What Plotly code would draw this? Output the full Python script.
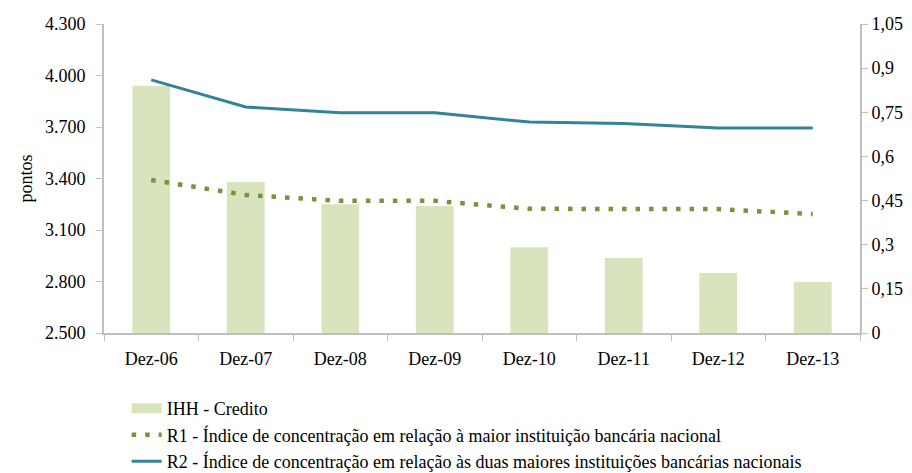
import plotly.graph_objects as go

categories = ["Dez-06", "Dez-07", "Dez-08", "Dez-09", "Dez-10", "Dez-11", "Dez-12", "Dez-13"]
ihh_credito = [3940, 3380, 3250, 3240, 3000, 2937, 2850, 2797]
r1 = [0.520, 0.469, 0.449, 0.449, 0.422, 0.421, 0.421, 0.404]
r2 = [0.860, 0.768, 0.748, 0.748, 0.717, 0.712, 0.697, 0.697]

left_ticks = [2500, 2800, 3100, 3400, 3700, 4000, 4300]
left_labels = ["2.500", "2.800", "3.100", "3.400", "3.700", "4.000", "4.300"]
right_ticks = [0, 0.15, 0.3, 0.45, 0.6, 0.75, 0.9, 1.05]
right_labels = ["0", "0,15", "0,3", "0,45", "0,6", "0,75", "0,9", "1,05"]

name_bar = "IHH - Credito"
name_r1 = "R1 - Índice de concentração em relação à maior instituição bancária nacional"
name_r2 = "R2 - Índice de concentração em relação às duas maiores instituições bancárias nacionais"

FONT = "Times New Roman"
BAR_C = "#d7e4bd"
R1_C = "#77933c"
R2_C = "#31849b"
AX_C = "#bfbfbf"
TXT = dict(family=FONT, size=18, color="#000000")

fig = go.Figure()
fig.add_trace(go.Bar(x=categories, y=ihh_credito, marker_color=BAR_C, name=name_bar,
                     showlegend=False, yaxis="y"))
# legend proxy for the bar series (wide swatch, as in the original)
fig.add_trace(go.Scatter(x=[None], y=[None], mode="lines", name=name_bar,
                         line=dict(color=BAR_C, width=10), yaxis="y"))
fig.add_trace(go.Scatter(x=categories, y=r1, mode="lines", name=name_r1,
                         line=dict(color=R1_C, width=4.5, dash="4.5px,9px"), yaxis="y2"))
fig.add_trace(go.Scatter(x=categories, y=r2, mode="lines", name=name_r2,
                         line=dict(color=R2_C, width=3), yaxis="y2"))

fig.update_layout(
    template="none",
    width=904, height=465,
    margin=dict(l=96, r=52, t=16, b=140, autoexpand=False),
    plot_bgcolor="white", paper_bgcolor="white",
    font=TXT,
    bargap=0.6,
    xaxis=dict(type="category", showgrid=False, showline=True, linecolor=AX_C, linewidth=2,
               ticks="outside", tickson="boundaries", tickcolor=AX_C, ticklen=6,
               tickfont=TXT, range=[-0.5, 7.5], ticklabelstandoff=8),
    yaxis=dict(range=[2500, 4300], tickvals=left_ticks, ticktext=left_labels,
               showgrid=False, zeroline=False, showline=True, linecolor=AX_C, linewidth=2,
               ticks="outside", tickcolor=AX_C, ticklen=6, tickfont=TXT,
               ticklabelstandoff=7,
               title=dict(text="pontos", font=TXT, standoff=8)),
    yaxis2=dict(range=[0, 1.05], tickvals=right_ticks, ticktext=right_labels,
                overlaying="y", side="right", showgrid=False, zeroline=False,
                showline=True, linecolor=AX_C, linewidth=2, ticks="outside",
                tickcolor=AX_C, ticklen=6, tickfont=TXT),
    legend=dict(orientation="v", x=0.03, xanchor="left", y=-0.185, yanchor="top",
                font=TXT, bgcolor="rgba(0,0,0,0)", tracegroupgap=0),
    showlegend=True,
)

fig.write_html("out.html")
